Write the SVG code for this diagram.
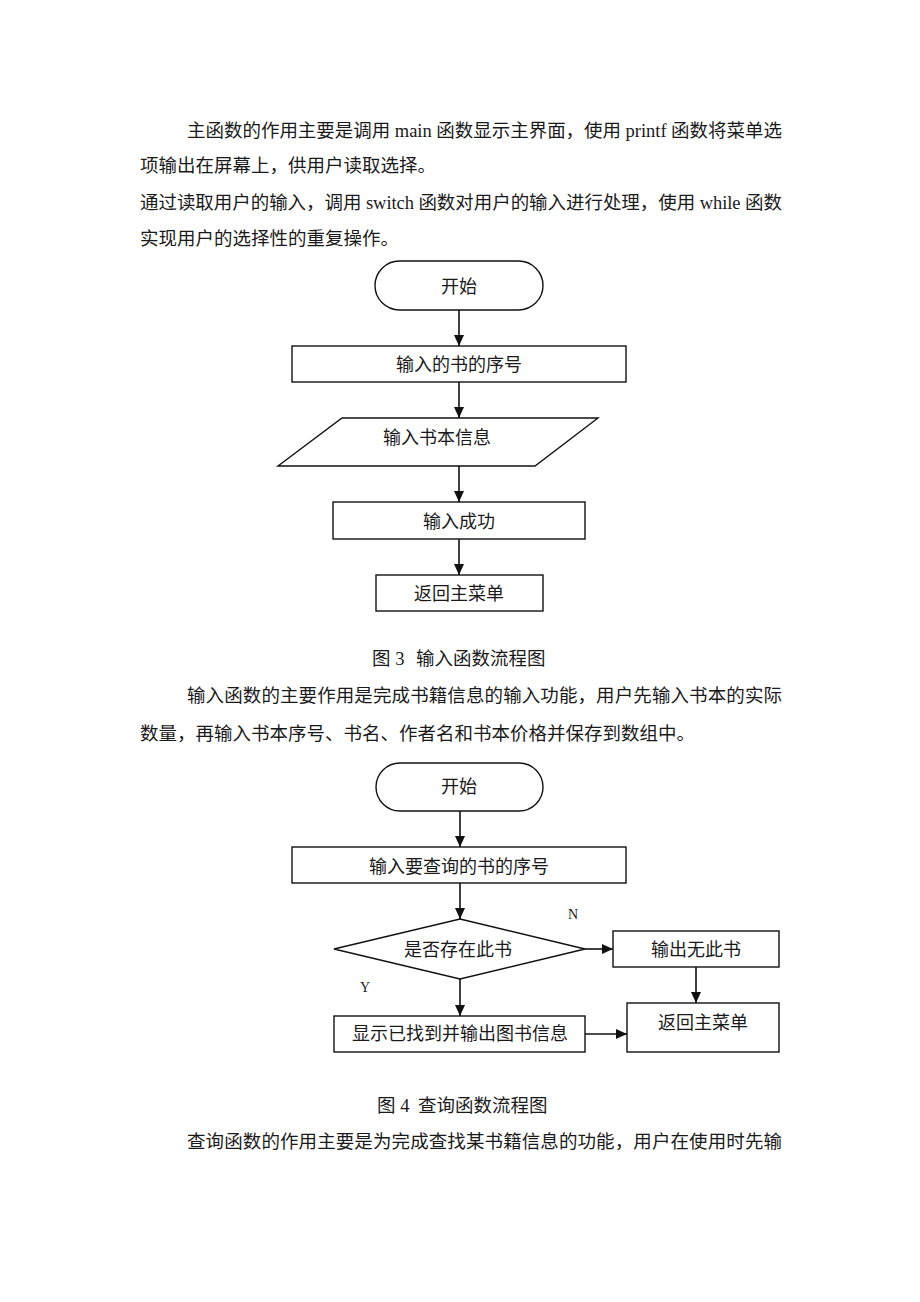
<svg xmlns="http://www.w3.org/2000/svg" width="920" height="1302" viewBox="0 0 920 1302">
<style>
.body{font-family:"Liberation Serif","Noto Sans CJK SC",serif;font-size:18.5px;fill:#1a1a1a}
.lbl{font-family:"Liberation Serif","Noto Sans CJK SC",serif;font-size:18px;fill:#1a1a1a;text-anchor:middle}
.yn{font-family:"Liberation Serif",serif;font-size:14px;fill:#1a1a1a;text-anchor:middle}
.shape{fill:#fff;stroke:#111;stroke-width:1.4}
.conn{stroke:#111;stroke-width:1.6;fill:none;marker-end:url(#ah)}
</style>
<defs>
<marker id="ah" markerUnits="userSpaceOnUse" markerWidth="12" markerHeight="12" viewBox="0 0 12 12" refX="11" refY="6" orient="auto">
<path d="M0,1 L11,6 L0,11 Z" fill="#111"/>
</marker>
</defs>
<rect width="920" height="1302" fill="#fff"/>

<g id="para1">
<text class="body" x="187" y="137" textLength="595" lengthAdjust="spacing">主函数的作用主要是调用 main 函数显示主界面，使用 printf 函数将菜单选</text>
<text class="body" x="140" y="172">项输出在屏幕上，供用户读取选择。</text>
<text class="body" x="140" y="209" textLength="642" lengthAdjust="spacing">通过读取用户的输入，调用 switch 函数对用户的输入进行处理，使用 while 函数</text>
<text class="body" x="140" y="245">实现用户的选择性的重复操作。</text>
</g>

<g id="f3-connectors">
<line class="conn" x1="459" y1="310" x2="459" y2="346"/>
<line class="conn" x1="459" y1="382" x2="459" y2="418"/>
<line class="conn" x1="459" y1="466" x2="459" y2="502"/>
<line class="conn" x1="459" y1="539" x2="459" y2="575"/>
</g>
<g id="f3-start">
<rect class="shape" x="375" y="261" width="168" height="49" rx="24.5"/>
<text class="lbl" x="459" y="293">开始</text>
</g>
<g id="f3-seq">
<rect class="shape" x="292" y="346" width="334" height="36"/>
<text class="lbl" x="459" y="371">输入的书的序号</text>
</g>
<g id="f3-info">
<polygon class="shape" points="342,418 598,418 535,466 278,466"/>
<text class="lbl" x="437" y="444">输入书本信息</text>
</g>
<g id="f3-ok">
<rect class="shape" x="333" y="502" width="252" height="37"/>
<text class="lbl" x="459" y="528">输入成功</text>
</g>
<g id="f3-return">
<rect class="shape" x="376" y="575" width="167" height="36"/>
<text class="lbl" x="459" y="600">返回主菜单</text>
</g>
<text class="body" y="665"><tspan x="372">图 3</tspan><tspan x="416">输入函数流程图</tspan></text>

<g id="para2">
<text class="body" x="187" y="702" textLength="595" lengthAdjust="spacing">输入函数的主要作用是完成书籍信息的输入功能，用户先输入书本的实际</text>
<text class="body" x="140" y="740">数量，再输入书本序号、书名、作者名和书本价格并保存到数组中。</text>
</g>

<g id="f4-connectors">
<line class="conn" x1="460" y1="811" x2="460" y2="847"/>
<line class="conn" x1="460" y1="883" x2="460" y2="919"/>
<line class="conn" x1="585" y1="949" x2="613" y2="949"/>
<line class="conn" x1="696" y1="967" x2="696" y2="1003"/>
<line class="conn" x1="460" y1="979" x2="460" y2="1016"/>
<line class="conn" x1="585" y1="1034" x2="627" y2="1034"/>
<text class="yn" x="573" y="919">N</text>
<text class="yn" x="365" y="992">Y</text>
</g>
<g id="f4-start">
<rect class="shape" x="376" y="763" width="167" height="48" rx="24"/>
<text class="lbl" x="459" y="793">开始</text>
</g>
<g id="f4-seq">
<rect class="shape" x="292" y="847" width="334" height="36"/>
<text class="lbl" x="459" y="873">输入要查询的书的序号</text>
</g>
<g id="f4-decision">
<polygon class="shape" points="460,919 585,949 460,979 334,949"/>
<text class="lbl" x="458" y="956">是否存在此书</text>
</g>
<g id="f4-none">
<rect class="shape" x="613" y="931" width="166" height="36"/>
<text class="lbl" x="696" y="956">输出无此书</text>
</g>
<g id="f4-found">
<rect class="shape" x="334" y="1016" width="251" height="36"/>
<text class="lbl" x="460" y="1040">显示已找到并输出图书信息</text>
</g>
<g id="f4-return">
<rect class="shape" x="627" y="1003" width="152" height="49"/>
<text class="lbl" x="703" y="1029">返回主菜单</text>
</g>
<text class="body" y="1112"><tspan x="377">图 4</tspan><tspan x="418">查询函数流程图</tspan></text>

<g id="para3">
<text class="body" x="187" y="1148" textLength="595" lengthAdjust="spacing">查询函数的作用主要是为完成查找某书籍信息的功能，用户在使用时先输</text>
</g>
</svg>
